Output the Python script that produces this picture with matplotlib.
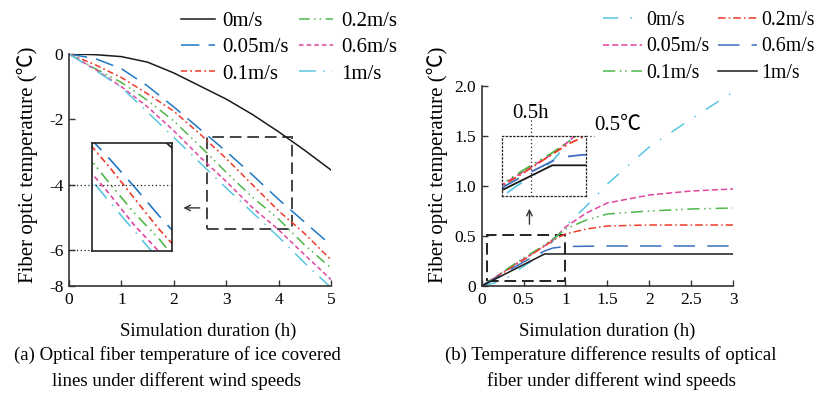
import matplotlib
matplotlib.use('Agg')
import matplotlib.pyplot as plt
from matplotlib.lines import Line2D
from matplotlib.patches import Rectangle

plt.rcParams['font.family'] = ['Liberation Serif', 'Noto Sans CJK SC', 'DejaVu Sans']

# ---------------- data: panel (a) ----------------
a_x = [0, 0.5, 1, 1.5, 2, 2.5, 3, 3.5, 4, 4.5, 5]
a_v0 = [0, -0.02, -0.08, -0.25, -0.58, -0.98, -1.38, -1.85, -2.38, -2.95, -3.55]
a_v005 = [0, -0.14, -0.45, -0.98, -1.62, -2.3, -2.98, -3.7, -4.45, -5.15, -5.85]
a_v01 = [0, -0.33, -0.72, -1.22, -1.75, -2.45, -3.2, -4.0, -4.8, -5.5, -6.3]
a_v02 = [0, -0.45, -0.87, -1.42, -2.05, -2.82, -3.62, -4.38, -5.05, -5.85, -6.55]
a_v06 = [0, -0.47, -1.0, -1.62, -2.35, -3.15, -3.9, -4.7, -5.38, -6.15, -6.9]
a_v1 = [0, -0.5, -1.02, -1.78, -2.55, -3.33, -4.1, -4.85, -5.6, -6.4, -7.15]
a_labels = ['0m/s', '0.05m/s', '0.1m/s', '0.2m/s', '0.6m/s', '1m/s']
a_xticks = [0, 1, 2, 3, 4, 5]
a_yticks = [0, -2, -4, -6, -7.1]
a_yticklabels = ['0', '-2', '-4', '-6', '-8']

# ---------------- data: panel (b) ----------------
b_x0 = [0, 0.2, 0.34, 0.45, 0.6, 0.75, 0.9, 1.0, 1.25, 1.5, 2, 2.5, 3]
b_v0 = [0, 0.04, 0.10, 0.17, 0.25, 0.35, 0.5, 0.6, 0.8, 1.02, 1.39, 1.67, 1.94]
b_x = [0, 0.5, 0.75, 0.9, 1.0, 1.25, 1.5, 2, 2.5, 3]
b_v005 = [0, 0.27, 0.40, 0.50, 0.59, 0.73, 0.83, 0.91, 0.95, 0.97]
b_v01 = [0, 0.28, 0.41, 0.50, 0.57, 0.66, 0.72, 0.75, 0.77, 0.78]
b_v02 = [0, 0.26, 0.40, 0.48, 0.52, 0.57, 0.60, 0.61, 0.61, 0.61]
b_x06 = [0, 0.5, 0.75, 0.85, 1.0, 1.5, 2, 2.5, 3]
b_v06 = [0, 0.24, 0.35, 0.38, 0.395, 0.40, 0.40, 0.40, 0.40]
b_x1 = [0, 0.75, 3]
b_v1 = [0, 0.32, 0.32]
b_labels = ['0m/s', '0.05m/s', '0.1m/s', '0.2m/s', '0.6m/s', '1m/s']
b_xticks = [0, 0.5, 1, 1.5, 2, 2.5, 3]
b_xticklabels = ['0', '0.5', '1', '1.5', '2', '2.5', '3']
b_yticks = [0, 0.5, 1.0, 1.5, 2.0]
b_yticklabels = ['0', '0.5', '1.0', '1.5', '2.0']

BLACK = '#1a1a1a'
BLUE = '#1f78c4'
RED = '#ee3b2a'
GREEN = '#4db848'
PINK = '#e0449e'
CYAN = '#5bc5e0'
BLUE2 = '#3c6fc0'

W, H = 826, 404
fig = plt.figure(figsize=(W / 100, H / 100), dpi=100)


def fx(px):
    return px / W


def fy(py):
    return 1 - py / H


TICK_FS = 12.5
LAB_FS = 13.5
YLAB_FS = 15
LEG_FS = 15
LEG_FS_B = 14.3

a_series = [
    (a_v0, BLACK, None),
    (a_v005, BLUE, (12, 6)),
    (a_v01, RED, (4, 2, 1.2, 2)),
    (a_v02, GREEN, (7, 3, 1, 2.5, 1, 3)),
    (a_v06, PINK, (3, 2)),
    (a_v1, CYAN, (11, 5, 1, 5)),
]


def style_axes(ax):
    for s in ['top', 'right']:
        ax.spines[s].set_visible(False)
    for s in ['left', 'bottom']:
        ax.spines[s].set_color('#333333')
        ax.spines[s].set_linewidth(1.2)
    ax.tick_params(direction='in', length=4, width=1, color='#333333',
                   labelsize=TICK_FS, pad=4)


def draw(ax, x, y, color, dashes, lw=1.1, label=None):
    ln, = ax.plot(x, y, color=color, lw=lw, label=label)
    if dashes is not None:
        ln.set_dashes(dashes)
    return ln

# ---------------- panel (a) ----------------
ax1 = fig.add_axes([fx(69), fy(286), fx(331 - 69), (286 - 54) / H])
style_axes(ax1)
handles_a = []
for (vals, c, d), lab in zip(a_series, a_labels):
    handles_a.append(draw(ax1, a_x, vals, c, d, label=lab))
ax1.set_xlim(0, 5)
ax1.set_ylim(-7.1, 0)
ax1.set_xticks(a_xticks)
ax1.set_yticks(a_yticks)
ax1.set_yticklabels(a_yticklabels)

ax1.add_patch(Rectangle((2.63, -5.36), 4.26 - 2.63, 5.36 - 2.55, fill=False,
                        ec='#444444', lw=1.4, ls=(0, (6, 3))))
ax1.annotate('', xy=(2.13, -4.71), xytext=(2.55, -4.71),
             arrowprops=dict(arrowstyle='->', color='#333333', lw=1.0))

ins1 = fig.add_axes([fx(92), fy(251), fx(172 - 92), (251 - 143) / H])
for (vals, c, d) in a_series:
    draw(ins1, a_x, vals, c, d, lw=1.2)
ins1.set_xlim(2.63, 4.26)
ins1.set_ylim(-5.36, -2.55)
ins1.set_xticks([])
ins1.set_yticks([])
for s in ins1.spines.values():
    s.set_color('#222222')
    s.set_linewidth(1.2)

fig.add_artist(Line2D([0, 1.97], [-4, -4], transform=ax1.transData,
                      color='#222222', lw=0.9, ls=(0, (1, 2)), zorder=5))
fig.add_artist(Line2D([0, 0.44], [-6, -6], transform=ax1.transData,
                      color='#222222', lw=0.9, ls=(0, (1, 2)), zorder=5))

ax1.legend(handles=handles_a, ncol=2, loc='upper left',
           bbox_to_anchor=(fx(168), fy(-1)), bbox_transform=fig.transFigure,
           frameon=False, fontsize=LEG_FS, handlelength=1.65,
           handletextpad=0.35, columnspacing=0.5, labelspacing=0.32,
           borderpad=0.1)

fig.text(fx(27), fy(165), 'Fiber optic temperature (℃)', rotation=90,
         ha='center', va='center', fontsize=YLAB_FS)
fig.text(fx(208), fy(331), 'Simulation duration (h)', ha='center',
         va='center', fontsize=LAB_FS)
fig.text(fx(177), fy(355), '(a) Optical fiber temperature of ice covered',
         ha='center', va='center', fontsize=LAB_FS)
fig.text(fx(177), fy(381), 'lines under different wind speeds',
         ha='center', va='center', fontsize=LAB_FS)

# ---------------- panel (b) ----------------
b_series = [
    (b_x0, b_v0, CYAN, (10, 8, 1, 8)),
    (b_x, b_v005, PINK, (4, 2)),
    (b_x, b_v01, GREEN, (8, 3, 1, 2.5, 1, 3)),
    (b_x, b_v02, RED, (5, 2, 1, 2)),
    (b_x06, b_v06, BLUE2, (14, 8)),
    (b_x1, b_v1, BLACK, None),
]

ax2 = fig.add_axes([fx(481.7), fy(286), fx(733 - 481.7), (286 - 86) / H])
style_axes(ax2)
handles_b = []
for (xx, vals, c, d), lab in zip(b_series, b_labels):
    handles_b.append(draw(ax2, xx, vals, c, d, label=lab))
ax2.set_xlim(0, 3)
ax2.set_ylim(0, 2.0)
ax2.set_xticks(b_xticks)
ax2.set_xticklabels(b_xticklabels)
ax2.set_yticks(b_yticks)
ax2.set_yticklabels(b_yticklabels)

ax2.add_patch(Rectangle((0.06, 0.05), 1.0 - 0.06, 0.51 - 0.05, fill=False,
                        ec='#222222', lw=1.4, ls=(0, (6, 3))))
ax2.annotate('', xy=(0.57, 0.80), xytext=(0.57, 0.59),
             arrowprops=dict(arrowstyle='->', color='#333333', lw=1.0))

ins2 = fig.add_axes([fx(501.7), fy(196), fx(586 - 501.7), (196 - 136) / H])
for (xx, vals, c, d) in b_series:
    draw(ins2, xx, vals, c, d, lw=1.3)
ins2.set_xlim(0.33, 1.03)
ins2.set_ylim(0.10, 0.53)
ins2.set_xticks([])
ins2.set_yticks([])
ins2.patch.set_alpha(0)
for s in ins2.spines.values():
    s.set_linestyle((0, (1, 2)))
    s.set_linewidth(0.9)
    s.set_color('#222222')

fig.add_artist(Line2D([fx(586), fx(594)], [fy(136), fy(136)],
                      transform=fig.transFigure, color='#222222', lw=0.9,
                      ls=(0, (1, 2))))
fig.add_artist(Line2D([fx(531), fx(531)], [fy(120), fy(196)],
                      transform=fig.transFigure, color='#222222', lw=0.9,
                      ls=(0, (1, 2))))
fig.text(fx(531), fy(114), '0.5h', ha='center', va='center', fontsize=LEG_FS)
fig.text(fx(618), fy(126), '0.5℃', ha='center', va='center', fontsize=LEG_FS)

ax2.legend(handles=handles_b, ncol=2, loc='upper left',
           bbox_to_anchor=(fx(591), fy(-1)), bbox_transform=fig.transFigure,
           frameon=False, fontsize=LEG_FS_B, handlelength=1.95,
           handletextpad=0.25, columnspacing=0.4, labelspacing=0.38,
           borderpad=0.1)

fig.text(fx(437), fy(165), 'Fiber optic temperature (℃)', rotation=90,
         ha='center', va='center', fontsize=YLAB_FS)
fig.text(fx(607), fy(331), 'Simulation duration (h)', ha='center',
         va='center', fontsize=LAB_FS)
fig.text(fx(611), fy(355), '(b) Temperature difference results of optical',
         ha='center', va='center', fontsize=LAB_FS)
fig.text(fx(611), fy(381), 'fiber under different wind speeds',
         ha='center', va='center', fontsize=LAB_FS)

fig.savefig('out.png', dpi=100)
